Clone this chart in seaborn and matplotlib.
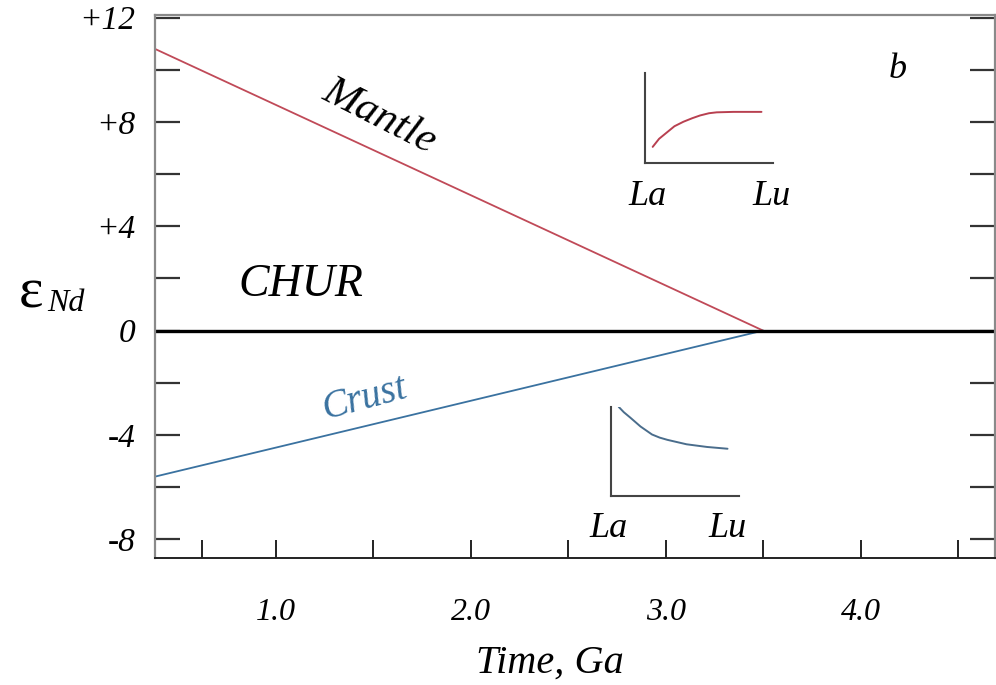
import numpy as np
import pandas as pd
import matplotlib
matplotlib.use("Agg")
import matplotlib.pyplot as plt
import seaborn as sns

sns.set_theme(style="white")
plt.rcParams["font.family"] = ["Liberation Serif", "DejaVu Serif"]
plt.rcParams["font.style"] = "italic"
plt.rcParams["text.color"] = "black"
plt.rcParams["axes.labelcolor"] = "black"
plt.rcParams["xtick.labelcolor"] = "black"
plt.rcParams["ytick.labelcolor"] = "black"

# ---------------------------------------------------------------------------
# data
# ---------------------------------------------------------------------------
time_ga = [0.38, 3.5]
mantle_eps = [10.8, 0.0]
crust_eps = [-5.6, 0.0]
chur_eps = 0.0

x_major = [1.0, 2.0, 3.0, 4.0]
x_labels = ["1.0", "2.0", "3.0", "4.0"]
x_minor = [0.62, 1.5, 2.5, 3.5, 4.5]
y_major = [-8, -4, 0, 4, 8, 12]
y_labels = ["-8", "-4", "0", "+4", "+8", "+12"]
y_minor = [-6, -2, 2, 6, 10]

# REE patterns in the little insets (La -> Lu, arbitrary units)
ree_x_mantle = [0.06, 0.11, 0.17, 0.23, 0.30, 0.37, 0.43, 0.50, 0.56, 0.69, 0.91]
ree_mantle = [0.18, 0.27, 0.34, 0.41, 0.46, 0.50, 0.53, 0.555, 0.565, 0.57, 0.57]
ree_x_crust = [0.06, 0.10, 0.15, 0.19, 0.23, 0.28, 0.32, 0.38, 0.44, 0.59, 0.75, 0.91]
ree_crust = [1.00, 0.94, 0.88, 0.83, 0.78, 0.73, 0.69, 0.655, 0.63, 0.58, 0.55, 0.53]

MANTLE_C = "#c04a58"
CRUST_C = "#3a72a0"

df = pd.DataFrame({"time": time_ga * 2,
                   "eps": mantle_eps + crust_eps,
                   "reservoir": ["Mantle"] * 2 + ["Crust"] * 2})

fig = plt.figure(figsize=(9.96, 6.85), dpi=100)
ax = fig.add_axes([0.1556, 0.1854, 0.8434, 0.7927])

sns.lineplot(data=df, x="time", y="eps", hue="reservoir",
             palette={"Mantle": MANTLE_C, "Crust": CRUST_C},
             lw=1.3, legend=False, ax=ax)
ax.axhline(chur_eps, color="black", lw=2.4)

ax.set_xlim(0.38, 4.69)
ax.set_ylim(-8.72, 12.1)

ax.set_xticks(x_major, x_labels)
ax.set_xticks(x_minor, minor=True)
ax.set_yticks(y_major, y_labels)
ax.set_yticks(y_minor, minor=True)

ax.tick_params(axis="x", which="both", direction="in", length=13, width=1.4,
               color="#222222", bottom=True, top=False, pad=29, labelsize=23)
ax.tick_params(axis="y", which="both", direction="in", length=18, width=1.6,
               color="#333333", left=True, right=True, pad=14, labelsize=24)

for side in ["left", "top", "right"]:
    ax.spines[side].set_color("#8a8a8a")
    ax.spines[side].set_linewidth(1.6)
ax.spines["bottom"].set_color("#222222")
ax.spines["bottom"].set_linewidth(1.4)

ax.set_xlabel("Time, Ga", fontsize=29)
ax.xaxis.set_label_coords(0.47, -0.16)
ax.set_ylabel("")

ax.text(1.53, 8.2, "Mantle", fontsize=31, rotation=-27, ha="center", va="center")
ax.text(1.46, -2.6, "Crust", fontsize=28, rotation=15, ha="center", va="center",
        color=CRUST_C)
ax.text(1.13, 1.75, "CHUR", fontsize=33, ha="center", va="center")
ax.text(4.19, 10.0, "b", fontsize=26, ha="center", va="center")

fig.text(0.031, 0.572, "\u03b5", fontsize=42, style="normal", ha="center", va="center")
fig.text(0.066, 0.557, "Nd", fontsize=23, ha="center", va="center")

# insets
def inset(rect, xs, ys, color, lab_x):
    ia = fig.add_axes(rect)
    sns.lineplot(x=xs, y=ys, ax=ia, color=color, lw=1.4, sort=False)
    ia.set_xlim(0, 1)
    ia.set_ylim(0, 1)
    ia.set_xticks([])
    ia.set_yticks([])
    ia.patch.set_alpha(0)
    for s in ["top", "right"]:
        ia.spines[s].set_visible(False)
    for s in ["left", "bottom"]:
        ia.spines[s].set_color("#444444")
        ia.spines[s].set_linewidth(1.5)
    for x, t in zip(lab_x, ["La", "Lu"]):
        ia.text(x, -0.37, t, fontsize=26, ha="center", va="center",
                transform=ia.transAxes)
    return ia

inset([0.6476, 0.762, 0.1285, 0.131], ree_x_mantle, ree_mantle, "#b84050", [0.02, 0.99])
inset([0.6135, 0.276, 0.1285, 0.130], ree_x_crust, ree_crust, "#4a6d8c", [-0.02, 0.91])

fig.savefig("out.png", dpi=100)
